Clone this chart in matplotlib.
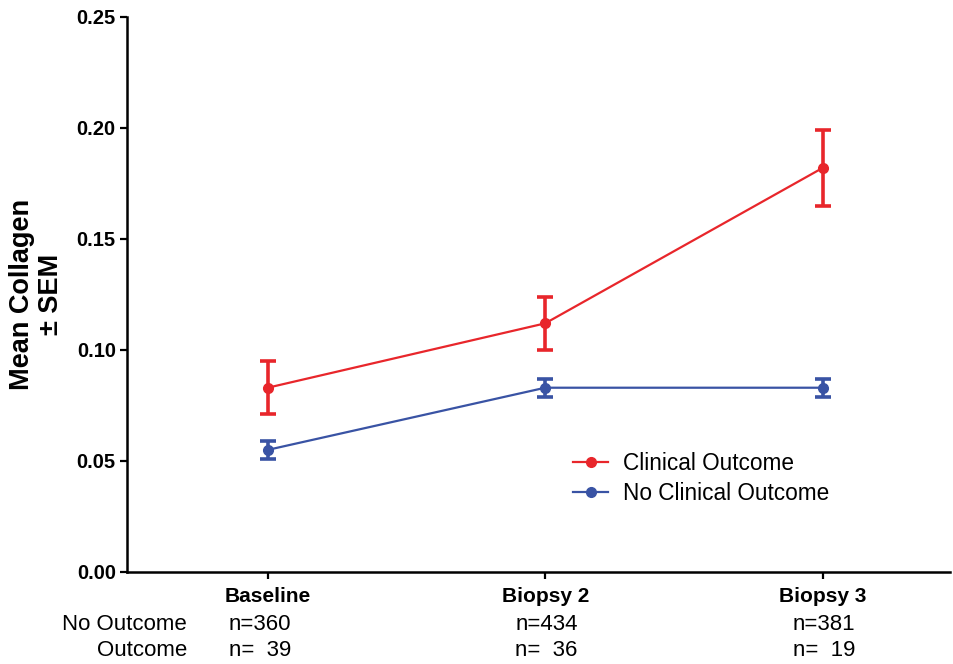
import matplotlib
matplotlib.use("Agg")
import matplotlib.pyplot as plt
from matplotlib.lines import Line2D
from matplotlib.transforms import blended_transform_factory

plt.rcParams['font.family'] = ['Liberation Sans', 'DejaVu Sans']

timepoints = ["Baseline", "Biopsy 2", "Biopsy 3"]
clinical_mean = [0.083, 0.112, 0.182]
clinical_sem = [0.012, 0.012, 0.017]
no_clinical_mean = [0.055, 0.083, 0.083]
no_clinical_sem = [0.004, 0.004, 0.004]
n_no_outcome = [360, 434, 381]
n_outcome = [39, 36, 19]

RED = "#E8262B"
BLUE = "#3953A4"

fig = plt.figure(figsize=(9.54, 6.64), dpi=100)
ax = fig.add_axes([0.133, 0.1386, 0.863, 0.8358])

x = list(range(len(timepoints)))
common = dict(marker="o", markersize=7, linewidth=1.6, elinewidth=2.6,
              capsize=5.5, capthick=2.6)
ax.errorbar(x, clinical_mean, yerr=clinical_sem, color=RED, **common)
ax.errorbar(x, no_clinical_mean, yerr=no_clinical_sem, color=BLUE, **common)

ax.set_xlim(-0.508, 2.46)
ax.set_ylim(0, 0.25)
ax.set_yticks([0.0, 0.05, 0.10, 0.15, 0.20, 0.25])
ax.set_yticklabels([f"{v:.2f}" for v in ax.get_yticks()],
                   fontsize=14.5, fontweight="bold")
ax.set_xticks(x)
ax.set_xticklabels(timepoints, fontsize=15, fontweight="bold")

for side in ("top", "right"):
    ax.spines[side].set_visible(False)
for side in ("left", "bottom"):
    ax.spines[side].set_linewidth(1.8)
ax.tick_params(axis="both", direction="out", length=5, width=1.6, pad=3)
ax.tick_params(axis="x", pad=6)

ax.set_ylabel("Mean Collagen\n\u00b1 SEM", fontsize=19.5, fontweight="bold",
              linespacing=1.15)
ax.yaxis.set_label_coords(-0.076, 0.5)

handles = [
    Line2D([], [], color=RED, marker="o", markersize=7, linewidth=1.6),
    Line2D([], [], color=BLUE, marker="o", markersize=7, linewidth=1.6),
]
ax.legend(handles, ["Clinical Outcome", "No Clinical Outcome"],
          loc="upper left", bbox_to_anchor=(0.531, 0.232), frameon=False,
          fontsize=16.3, handlelength=1.55, handletextpad=0.65,
          labelspacing=0.28, borderaxespad=0)

# sample sizes under each timepoint
trans = blended_transform_factory(ax.transData, fig.transFigure)
offsets = [-0.14, -0.108, -0.108]
for xi, off, a, b in zip(x, offsets, n_no_outcome, n_outcome):
    ax.text(xi + off, 1 - 625 / 664, f"n={a}", transform=trans, fontsize=16,
            ha="left", va="center")
    ax.text(xi + off, 1 - 651 / 664, f"n=  {b}", transform=trans, fontsize=16,
            ha="left", va="center")
fig.text(187 / 954, 1 - 625 / 664, "No Outcome", fontsize=16,
         ha="right", va="center")
fig.text(187 / 954, 1 - 651 / 664, "Outcome", fontsize=16,
         ha="right", va="center")

fig.savefig("out.png", dpi=100)
